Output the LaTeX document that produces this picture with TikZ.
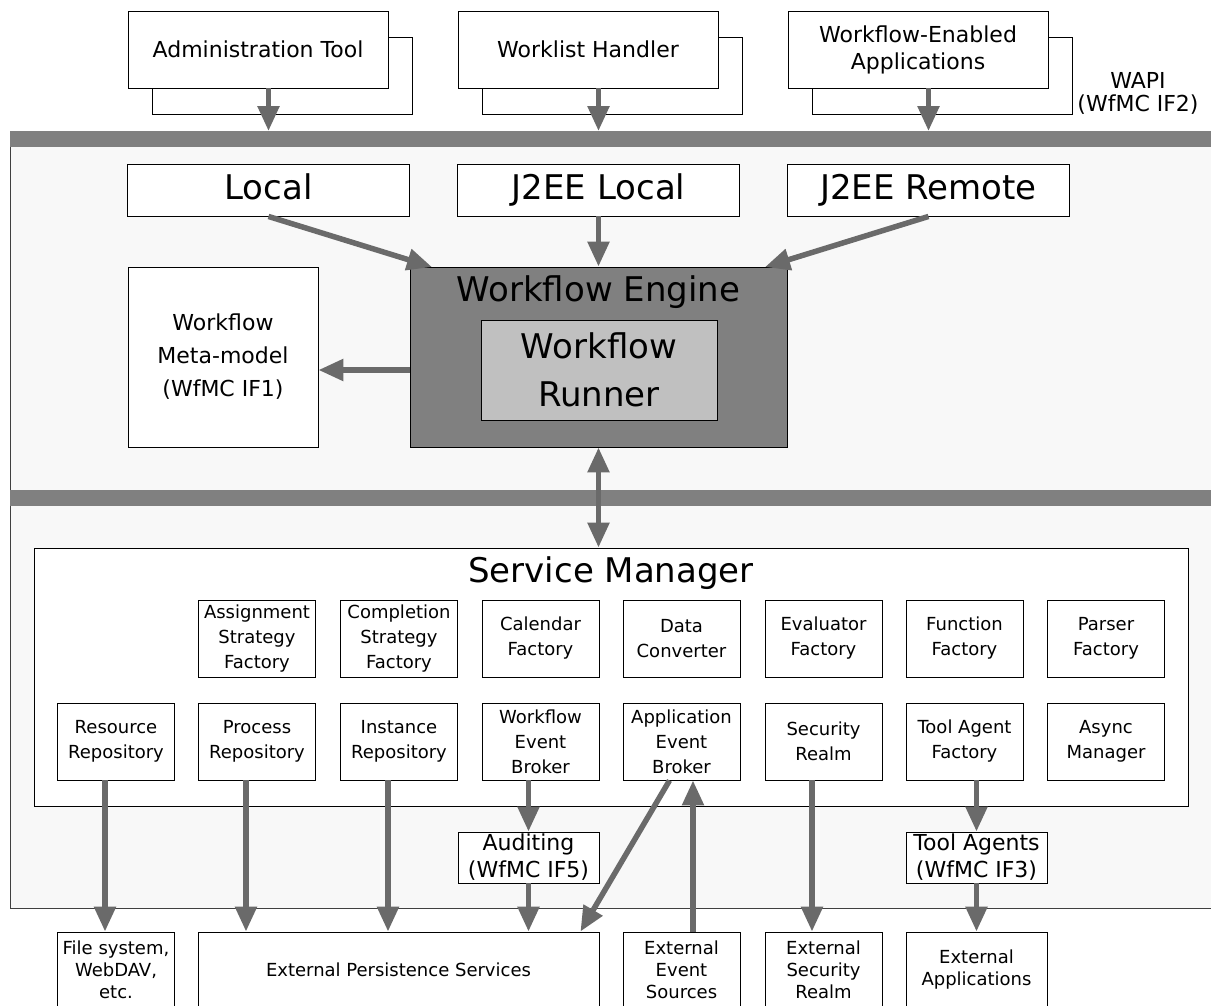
\documentclass[tikz,border=0pt]{standalone}
\usepackage{fontspec}
\setmainfont{DejaVu Sans}
\usetikzlibrary{arrows.meta}
\definecolor{barc}{HTML}{808080}
\definecolor{arrc}{HTML}{6A6A6A}
\definecolor{regc}{HTML}{F8F8F8}
\definecolor{runc}{HTML}{C0C0C0}
\definecolor{edgec}{HTML}{404040}
\begin{document}
\begin{tikzpicture}[x=1pt,y=-1pt,
  box/.style={draw=black,line width=0.9pt,fill=white,align=center,inner sep=0pt,text=black},
  lg/.style={font=\fontsize{34}{48}\selectfont},
  md/.style={font=\fontsize{22}{27}\selectfont},
  sm/.style={font=\fontsize{18}{25}\selectfont},
  topbox/.style={box,md,minimum width=260pt,minimum height=77pt},
  apibox/.style={box,lg,minimum width=282pt,minimum height=52pt,text height=25pt,text depth=7pt},
  sbox/.style={box,sm,minimum width=117pt,minimum height=77pt},
  extbox/.style={box,font=\fontsize{18}{22}\selectfont,minimum height=76pt},
  ifbox/.style={box,md,minimum width=141pt,minimum height=51pt},
  bar/.style={fill=barc,draw=none,inner sep=0pt,anchor=north west,minimum height=16pt,minimum width=1220pt},
  arr/.style={draw=arrc,line width=5.5pt,-{Triangle[length=25pt,width=21pt]}},
  darr/.style={draw=arrc,line width=5.5pt,{Triangle[length=25pt,width=21pt]}-{Triangle[length=25pt,width=21pt]}}
]
\useasboundingbox (0,0) rectangle (1211,1005);
\clip (0,0) rectangle (1211,1005);
\fill[white] (0,0) rectangle (1211,1005);

% engine region
\path[fill=regc,draw=edgec,line width=1pt] (10,139) rectangle (1240,908);
\node[bar] (wapi) at (10,131) {};
\node[bar] (spi) at (10,490) {};

% client applications
\node[box,minimum width=260pt,minimum height=77pt] (admB) at (282,75.5) {};
\node[topbox] (adm) at (258,49.5) {Administration Tool};
\node[box,minimum width=260pt,minimum height=77pt] (wlhB) at (612,75.5) {};
\node[topbox] (wlh) at (588,49.5) {Worklist Handler};
\node[box,minimum width=260pt,minimum height=77pt] (weaB) at (942,75.5) {};
\node[topbox] (wea) at (918,49.5) {Workflow-Enabled\\Applications};
\node[align=center,font=\fontsize{22}{23}\selectfont] (wapit) at (1138,93) {WAPI\\(WfMC IF2)};

% API layer
\node[apibox] (loc) at (268.5,190) {Local};
\node[apibox] (jl) at (598.5,190) {J2EE Local};
\node[apibox] (jr) at (928.5,190) {J2EE Remote};

% engine
\node[box,font=\fontsize{22}{33}\selectfont,minimum width=190pt,minimum height=180pt] (meta) at (223,357) {Workflow\\Meta-model\\(WfMC IF1)};
\node[box,fill=barc,minimum width=377pt,minimum height=180pt] (we) at (598.5,357) {};
\node[lg] (wet) at (598.5,292) {Workflow Engine};
\node[box,lg,fill=runc,minimum width=236pt,minimum height=100pt] (run) at (599,370) {Workflow\\Runner};

\coordinate (weL) at (432,267);
\coordinate (weR) at (765,267);

\draw[arr] (adm.south -| loc) -- (wapi.north -| loc);
\draw[arr] (wlh.south -| jl) -- (wapi.north -| jl);
\draw[arr] (wea.south -| jr) -- (wapi.north -| jr);

\draw[arr] (loc.south) -- (weL);
\draw[arr] (jl.south) -- (jl.south |- we.north);
\draw[arr] (jr.south) -- (weR);
\draw[arr] (we.west |- run) -- (meta.east |- run);

% service manager
\node[box,minimum width=1154pt,minimum height=258pt] (sm) at (611,677) {};
\node[lg] (smt) at (611,573) {Service Manager};
\draw[darr] (we.south) -- (sm.north -| we.south);

\node[sbox] (asf) at (257,638.5) {Assignment\\Strategy\\Factory};
\node[sbox] (csf) at (399,638.5) {Completion\\Strategy\\Factory};
\node[sbox] (cal) at (540.5,638.5) {Calendar\\Factory};
\node[sbox] (dc)  at (681.5,638.5) {Data\\Converter};
\node[sbox] (ev)  at (823.5,638.5) {Evaluator\\Factory};
\node[sbox] (fun) at (964.5,638.5) {Function\\Factory};
\node[sbox] (par) at (1106,638.5) {Parser\\Factory};

\node[sbox] (res) at (116,741.5) {Resource\\Repository};
\node[sbox] (pro) at (257,741.5) {Process\\Repository};
\node[sbox] (ins) at (399,741.5) {Instance\\Repository};
\node[sbox] (web) at (540.5,741.5) {Workflow\\Event\\Broker};
\node[sbox] (aeb) at (681.5,741.5) {Application\\Event\\Broker};
\node[sbox] (sr)  at (823.5,741.5) {Security\\Realm};
\node[sbox] (taf) at (964.5,741.5) {Tool Agent\\Factory};
\node[sbox] (am)  at (1106,741.5) {Async\\Manager};

\node[ifbox] (aud) at (528.5,857.5) {Auditing\\(WfMC IF5)};
\node[ifbox] (ta) at (976.5,857.5) {Tool Agents\\(WfMC IF3)};

% external
\node[extbox,minimum width=117pt] (fs) at (116,970) {File system,\\WebDAV,\\etc.};
\node[extbox,minimum width=401pt] (eps) at (398.5,970) {External Persistence Services};
\node[extbox,minimum width=117pt] (ees) at (681.5,970) {External\\Event\\Sources};
\node[extbox,minimum width=117pt] (ess) at (823.5,970) {External\\Security\\Realm};
\node[extbox,minimum width=141pt] (ea) at (976.5,970) {External\\Applications};

\draw[arr] ([xshift=-11pt]res.south) -- ([xshift=-11pt]res.south |- fs.north);
\draw[arr] ([xshift=-11pt]pro.south) -- ([xshift=-11pt]pro.south |- eps.north);
\draw[arr] ([xshift=-11pt]ins.south) -- ([xshift=-11pt]ins.south |- eps.north);
\draw[arr] (web.south -| aud) -- (aud.north);
\draw[arr] (aud.south) -- (aud.south |- eps.north);
\draw[arr] ([xshift=-12pt]aeb.south) -- ([xshift=-19pt]eps.north east);
\draw[arr] ([xshift=11.5pt]ees.north) -- ([xshift=11.5pt]aeb.south);
\draw[arr] ([xshift=-11.5pt]sr.south) -- ([xshift=-11.5pt]sr.south |- ess.north);
\draw[arr] (taf.south -| ta) -- (ta.north);
\draw[arr] (ta.south) -- (ea.north);
\end{tikzpicture}
\end{document}
